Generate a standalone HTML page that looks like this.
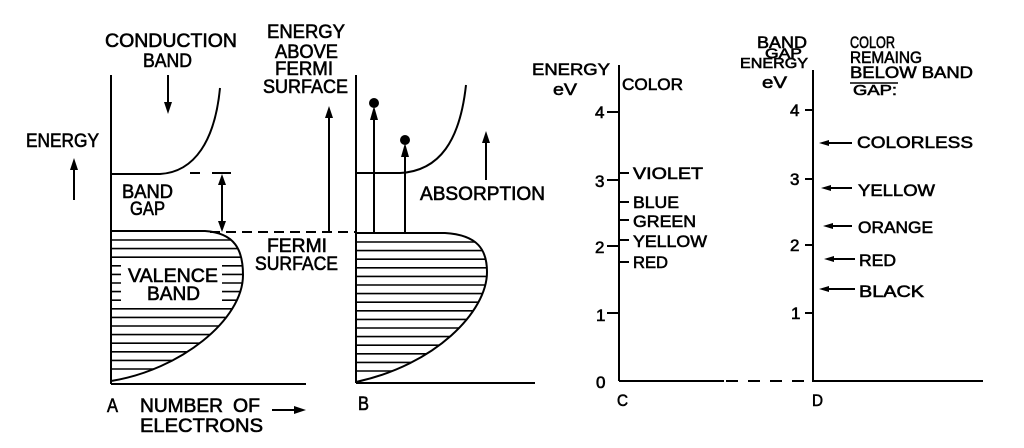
<!DOCTYPE html>
<html><head><meta charset="utf-8"><style>
html,body{margin:0;padding:0;background:#fff;}
svg{display:block;}
text{font-family:"Liberation Sans",sans-serif;fill:#000;stroke:#000;stroke-width:0.6;}
</style></head><body>
<svg width="1024" height="448" viewBox="0 0 1024 448" xmlns="http://www.w3.org/2000/svg">
<defs>
<clipPath id="va"><path d="M111,231 L205,231 C235,233 243,250 243,275 C243,320 180,370 111,381 Z"/></clipPath>
<clipPath id="vb"><path d="M356,233 L445,233 C478,235 487,250 487,272 C487,312 435,365 356,382 Z"/></clipPath>
</defs>
<g fill="none" stroke="#000" stroke-width="2">
<!-- Panel A -->
<line x1="111" y1="75" x2="111" y2="384"/>
<line x1="111" y1="384" x2="306" y2="384"/>
<path d="M111,174 L160,174 C195,172 215,140 220,88"/>
<path d="M111,231 L205,231 C235,233 243,250 243,275 C243,320 180,370 111,381"/>
<line x1="190" y1="173" x2="200" y2="173"/>
<line x1="212" y1="173" x2="231" y2="173"/>
<line x1="210" y1="232" x2="356" y2="232" stroke-dasharray="10,6"/>
<line x1="222" y1="180" x2="222" y2="225"/>
<line x1="74" y1="168" x2="74" y2="200"/>
<line x1="168" y1="75" x2="168" y2="104"/>
<line x1="329" y1="114" x2="329" y2="232"/>
<line x1="272" y1="410" x2="296" y2="410"/>
<!-- Panel B -->
<line x1="356" y1="75" x2="356" y2="383"/>
<line x1="356" y1="383" x2="535" y2="383"/>
<path d="M356,173 L400,173 C440,171 460,140 466,85"/>
<path d="M356,233 L445,233 C478,235 487,250 487,272 C487,312 435,365 356,382"/>
<line x1="374" y1="116" x2="374" y2="233"/>
<line x1="405" y1="153" x2="405" y2="233"/>
<line x1="486" y1="140" x2="486" y2="180"/>
<!-- Panel C -->
<line x1="619" y1="65" x2="619" y2="381"/>
<line x1="619" y1="381" x2="724" y2="381"/>
<line x1="726" y1="381" x2="812" y2="381" stroke-dasharray="12,10"/>
<line x1="607" y1="112" x2="619" y2="112"/>
<line x1="607" y1="180" x2="619" y2="180"/>
<line x1="607" y1="246" x2="619" y2="246"/>
<line x1="607" y1="313" x2="619" y2="313"/>
<line x1="619" y1="173" x2="629" y2="173"/>
<line x1="619" y1="202" x2="629" y2="202"/>
<line x1="619" y1="220" x2="629" y2="220"/>
<line x1="619" y1="240" x2="629" y2="240"/>
<line x1="619" y1="262" x2="629" y2="262"/>
<!-- Panel D -->
<line x1="813" y1="70" x2="813" y2="382"/>
<line x1="813" y1="381" x2="983" y2="381"/>
<line x1="805" y1="110" x2="813" y2="110"/>
<line x1="805" y1="179" x2="813" y2="179"/>
<line x1="805" y1="245" x2="813" y2="245"/>
<line x1="805" y1="313" x2="813" y2="313"/>
<line x1="826" y1="143" x2="852" y2="143"/>
<line x1="828" y1="188" x2="852" y2="188"/>
<line x1="830" y1="226" x2="852" y2="226"/>
<line x1="831" y1="259" x2="855" y2="259"/>
<line x1="826" y1="289" x2="855" y2="289"/>
<line x1="850" y1="83" x2="898" y2="83" stroke-width="1.5"/>
</g>
<!-- hatching -->
<g stroke="#000" stroke-width="1.6" clip-path="url(#va)">
<line x1="111" y1="240" x2="250" y2="240"/><line x1="111" y1="248.6" x2="250" y2="248.6"/>
<line x1="111" y1="257.2" x2="250" y2="257.2"/><line x1="111" y1="265.8" x2="250" y2="265.8"/>
<line x1="111" y1="274.4" x2="250" y2="274.4"/><line x1="111" y1="283" x2="250" y2="283"/>
<line x1="111" y1="291.6" x2="250" y2="291.6"/><line x1="111" y1="300.2" x2="250" y2="300.2"/>
<line x1="111" y1="308.8" x2="250" y2="308.8"/><line x1="111" y1="317.4" x2="250" y2="317.4"/>
<line x1="111" y1="326" x2="250" y2="326"/><line x1="111" y1="334.6" x2="250" y2="334.6"/>
<line x1="111" y1="343.2" x2="250" y2="343.2"/><line x1="111" y1="351.8" x2="250" y2="351.8"/>
<line x1="111" y1="360.4" x2="250" y2="360.4"/><line x1="111" y1="369" x2="250" y2="369"/>
</g>
<rect x="121" y="262" width="101" height="43" fill="#fff"/>
<g stroke="#000" stroke-width="1.6" clip-path="url(#vb)">
<line x1="356" y1="242" x2="490" y2="242"/><line x1="356" y1="250.6" x2="490" y2="250.6"/>
<line x1="356" y1="259.2" x2="490" y2="259.2"/><line x1="356" y1="267.8" x2="490" y2="267.8"/>
<line x1="356" y1="276.4" x2="490" y2="276.4"/><line x1="356" y1="285" x2="490" y2="285"/>
<line x1="356" y1="293.6" x2="490" y2="293.6"/><line x1="356" y1="302.2" x2="490" y2="302.2"/>
<line x1="356" y1="310.8" x2="490" y2="310.8"/><line x1="356" y1="319.4" x2="490" y2="319.4"/>
<line x1="356" y1="328" x2="490" y2="328"/><line x1="356" y1="336.6" x2="490" y2="336.6"/>
<line x1="356" y1="345.2" x2="490" y2="345.2"/><line x1="356" y1="353.8" x2="490" y2="353.8"/>
<line x1="356" y1="362.4" x2="490" y2="362.4"/><line x1="356" y1="371" x2="490" y2="371"/>
</g>
<!-- arrowheads -->
<g fill="#000" stroke="none">
<polygon points="74,158 70,170 78,170"/>
<polygon points="168,114 164,102 172,102"/>
<polygon points="222,174 218,185 226,185"/>
<polygon points="222,232 218,221 226,221"/>
<polygon points="329,106 325,118 333,118"/>
<polygon points="306,410 294,406 294,414"/>
<polygon points="374,106 370,120 378,120"/>
<polygon points="405,143 401,157 409,157"/>
<circle cx="374" cy="103" r="5"/>
<circle cx="405" cy="140" r="5"/>
<polygon points="486,131 482,143 490,143"/>
<polygon points="819,143 829,140 829,146"/>
<polygon points="821,188 831,185 831,191"/>
<polygon points="823,226 833,223 833,229"/>
<polygon points="824,259 834,256 834,262"/>
<polygon points="819,289 829,286 829,292"/>
</g>
<!-- Panel A text -->
<g font-size="19">
<text x="105" y="47" textLength="132" lengthAdjust="spacingAndGlyphs">CONDUCTION</text>
<text x="143" y="67" textLength="49" lengthAdjust="spacingAndGlyphs">BAND</text>
<text x="26" y="147" textLength="73" lengthAdjust="spacingAndGlyphs">ENERGY</text>
<text x="267" y="38" textLength="78" lengthAdjust="spacingAndGlyphs">ENERGY</text>
<text x="275" y="58" textLength="63" lengthAdjust="spacingAndGlyphs">ABOVE</text>
<text x="275" y="75" textLength="58" lengthAdjust="spacingAndGlyphs">FERMI</text>
<text x="263" y="93" textLength="85" lengthAdjust="spacingAndGlyphs">SURFACE</text>
<text x="122" y="198" textLength="51" lengthAdjust="spacingAndGlyphs">BAND</text>
<text x="130" y="215" textLength="35" lengthAdjust="spacingAndGlyphs">GAP</text>
<text x="267" y="252" textLength="60" lengthAdjust="spacingAndGlyphs">FERMI</text>
<text x="255" y="270" textLength="83" lengthAdjust="spacingAndGlyphs">SURFACE</text>
<text x="128" y="282" textLength="90" lengthAdjust="spacingAndGlyphs">VALENCE</text>
<text x="147" y="300" textLength="53" lengthAdjust="spacingAndGlyphs">BAND</text>
<text x="107" y="412" textLength="11" lengthAdjust="spacingAndGlyphs">A</text>
<text x="140" y="412" textLength="83" lengthAdjust="spacingAndGlyphs">NUMBER</text>
<text x="233" y="412" textLength="27" lengthAdjust="spacingAndGlyphs">OF</text>
<text x="140" y="432" textLength="123" lengthAdjust="spacingAndGlyphs">ELECTRONS</text>
<text x="420" y="200" textLength="125" lengthAdjust="spacingAndGlyphs">ABSORPTION</text>
<text x="358" y="410" textLength="11" lengthAdjust="spacingAndGlyphs">B</text>
</g>
<!-- Panel C text -->
<g font-size="17">
<text x="532" y="75" textLength="78" lengthAdjust="spacingAndGlyphs">ENERGY</text>
<text x="553" y="95" textLength="24" lengthAdjust="spacingAndGlyphs">eV</text>
<text x="622" y="90" textLength="61" lengthAdjust="spacingAndGlyphs">COLOR</text>
<text x="595" y="118">4</text>
<text x="595" y="187">3</text>
<text x="595" y="253">2</text>
<text x="596" y="321">1</text>
<text x="596" y="388">0</text>
<text x="633" y="179" textLength="70" lengthAdjust="spacingAndGlyphs">VIOLET</text>
<text x="633" y="208" textLength="46" lengthAdjust="spacingAndGlyphs">BLUE</text>
<text x="633" y="227" textLength="63" lengthAdjust="spacingAndGlyphs">GREEN</text>
<text x="633" y="247" textLength="74" lengthAdjust="spacingAndGlyphs">YELLOW</text>
<text x="633" y="268" textLength="35" lengthAdjust="spacingAndGlyphs">RED</text>
<text x="617" y="406" textLength="11" lengthAdjust="spacingAndGlyphs">C</text>
</g>
<!-- Panel D text -->
<g font-size="17">
<text x="757" y="48" textLength="50" lengthAdjust="spacingAndGlyphs">BAND</text>
<text x="765" y="58" textLength="37" lengthAdjust="spacingAndGlyphs" font-size="14">GAP</text>
<text x="740" y="68" textLength="68" lengthAdjust="spacingAndGlyphs" font-size="15">ENERGY</text>
<text x="762" y="88" textLength="25" lengthAdjust="spacingAndGlyphs">eV</text>
<text x="850" y="48" textLength="45" lengthAdjust="spacingAndGlyphs">COLOR</text>
<text x="850" y="63" textLength="72" lengthAdjust="spacingAndGlyphs">REMAING</text>
<text x="850" y="78" textLength="123" lengthAdjust="spacingAndGlyphs">BELOW BAND</text>
<text x="853" y="95" textLength="44" lengthAdjust="spacingAndGlyphs" font-size="15">GAP:</text>
<text x="790" y="116">4</text>
<text x="790" y="185">3</text>
<text x="790" y="251">2</text>
<text x="791" y="319">1</text>
<text x="857" y="148" textLength="116" lengthAdjust="spacingAndGlyphs">COLORLESS</text>
<text x="858" y="196" textLength="77" lengthAdjust="spacingAndGlyphs">YELLOW</text>
<text x="858" y="233" textLength="75" lengthAdjust="spacingAndGlyphs">ORANGE</text>
<text x="859" y="266" textLength="37" lengthAdjust="spacingAndGlyphs">RED</text>
<text x="859" y="297" textLength="65" lengthAdjust="spacingAndGlyphs">BLACK</text>
<text x="812" y="406" textLength="11" lengthAdjust="spacingAndGlyphs">D</text>
</g>
</svg>
</body></html>
